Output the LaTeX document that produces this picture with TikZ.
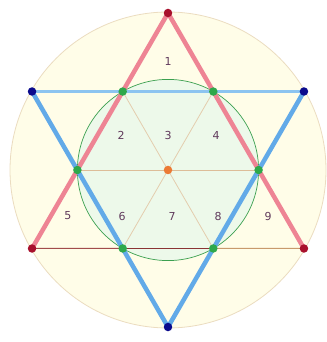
\documentclass[tikz,border=0pt]{standalone}
\usepackage{fontspec}
\setsansfont{DejaVu Sans}
\definecolor{discfill}{HTML}{FFFDE8}
\definecolor{discline}{HTML}{EBDCC0}
\definecolor{innerfill}{HTML}{EDF9EA}
\definecolor{innerline}{HTML}{3CA050}
\definecolor{redside}{HTML}{EE8494}
\definecolor{blueside}{HTML}{62AAE8}
\definecolor{topline}{HTML}{8CC4F0}
\definecolor{redthin}{HTML}{A24C4C}
\definecolor{redthindark}{HTML}{8A3434}
\definecolor{tanthin}{HTML}{C89A6C}
\definecolor{spoke}{HTML}{E4CDAE}
\definecolor{reddot}{HTML}{A8102C}
\definecolor{bluedot}{HTML}{0A0A8C}
\definecolor{greendot}{HTML}{2EA84A}
\definecolor{centredot}{HTML}{EC7A34}
\definecolor{numcol}{HTML}{603A5C}
\begin{document}
\begin{tikzpicture}[x=1pt, y=1pt]
        % Define styles
        \tikzstyle{dot} = [circle, inner sep=0pt, minimum size=8.5pt]
        \tikzstyle{redpt} = [dot, fill=reddot]
        \tikzstyle{bluept} = [dot, fill=bluedot]
        \tikzstyle{greenpt} = [dot, fill=greendot]
        \tikzstyle{midpt} = [dot, fill=centredot]
        \tikzstyle{num} = [font=\sffamily\fontsize{11}{13}\selectfont, text=numcol]
        \tikzstyle{thickred} = [redside, line width=4.5pt]
        \tikzstyle{thickblue} = [blueside, line width=4.5pt]

        \useasboundingbox (-168,-172) rectangle (158,170);

        % Circles
        \fill [discfill] (0,0) circle (158);
        \draw [discline, line width=0.8pt] (0,0) circle (158);
        \fill [innerfill] (0,0) circle (90.6);

        % Points
        \coordinate (O) at (0,0);
        \coordinate (top) at (90:157);
        \coordinate (lowleft) at (210:157);
        \coordinate (lowright) at (330:157);
        \coordinate (upleft) at (150:157);
        \coordinate (upright) at (30:157);
        \coordinate (bottom) at (270:157);
        \coordinate (h0) at (0:90.6);
        \coordinate (h60) at (60:90.6);
        \coordinate (h120) at (120:90.6);
        \coordinate (h180) at (180:90.6);
        \coordinate (h240) at (240:90.6);
        \coordinate (h300) at (300:90.6);

        % Lines
        \draw [spoke, line width=0.8pt] (h60) -- (h240);
        \draw [spoke, line width=0.8pt] (h120) -- (h300);
        \draw [spoke!80!brown, line width=0.8pt] (h180) -- (h0);
        \draw [innerline, line width=0.7pt] (O) circle (90.6);
        \draw [draw=topline, line width=2.2pt] (upleft) -- (upright);
        \draw [redthin, line width=1pt] (lowleft) -- (h240);
        \draw [redthindark, line width=1.2pt] (h240) -- (h300);
        \draw [tanthin, line width=1pt] (h300) -- (lowright);
        \draw [thickred] (top) -- (lowleft);
        \draw [thickred] (top) -- (lowright);
        \draw [thickblue] (upleft) -- (bottom);
        \draw [thickblue] (upright) -- (bottom);

        % Nodes
        \node (ptop) [redpt] at (top) {};
        \node (plowleft) [redpt] at (lowleft) {};
        \node (plowright) [redpt] at (lowright) {};
        \node (pupleft) [bluept] at (upleft) {};
        \node (pupright) [bluept] at (upright) {};
        \node (pbottom) [bluept] at (bottom) {};
        \node (g0) [greenpt] at (h0) {};
        \node (g60) [greenpt] at (h60) {};
        \node (g120) [greenpt] at (h120) {};
        \node (g180) [greenpt] at (h180) {};
        \node (g240) [greenpt] at (h240) {};
        \node (g300) [greenpt] at (h300) {};
        \node (centre) [midpt] at (O) {};

        % Labels
        \node (n1) [num] at (0,109) {1};
        \node (n2) [num] at (-47,35) {2};
        \node (n3) [num] at (0,35) {3};
        \node (n4) [num] at (48,35) {4};
        \node (n5) [num] at (-100,-46) {5};
        \node (n6) [num] at (-46,-46) {6};
        \node (n7) [num] at (4,-46) {7};
        \node (n8) [num] at (50,-46) {8};
        \node (n9) [num] at (100,-46) {9};
    \end{tikzpicture}
\end{document}
